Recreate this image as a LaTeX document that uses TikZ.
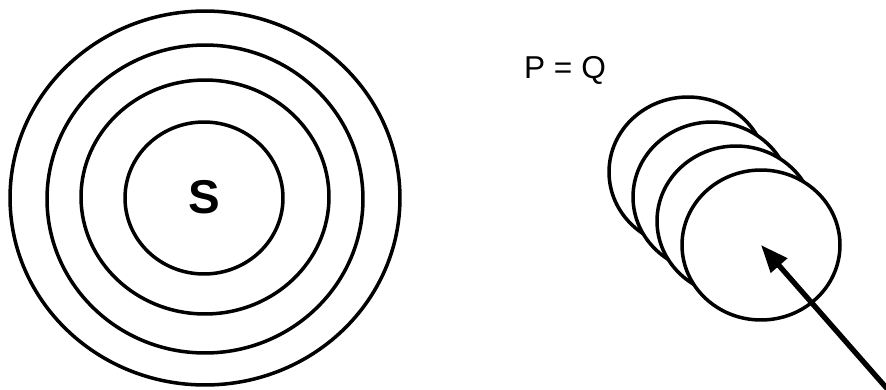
\documentclass[tikz,border=0pt]{standalone}
\usepackage{fontspec}
\setmainfont{Liberation Sans}
\usetikzlibrary{shapes.geometric,arrows.meta}
\begin{document}
\begin{tikzpicture}[x=0.02cm, y=-0.02cm,
	ring/.style={ellipse, draw, line width=2pt, inner sep=0pt},
	disc/.style={ellipse, draw, fill=white, line width=2pt, inner sep=0pt, minimum width=3.16cm, minimum height=3.0cm}]
	  \useasboundingbox (0,0) rectangle (886,389);
	  \node[ring, minimum width=7.8cm, minimum height=7.48cm] (s4) at (205,198) {};
	  \node[ring, minimum width=6.32cm, minimum height=6.16cm] (s3) at (205,199) {};
	  \node[ring, minimum width=4.96cm, minimum height=4.68cm] (s2) at (205,197) {};
	  \node[ring, minimum width=3.16cm, minimum height=3.04cm] (s1) at (204,198) {};
	  \node[font=\bfseries\fontsize{27}{32}\selectfont] (s) at (204,197) {S};
	  
	  \node[font=\fontsize{18}{22}\selectfont] (pq) at (565,70) {P = Q};
	  
	  \node[disc] (1) at (688,172) {};
	  \node[disc] (2) at (712,197) {};
	  \node[disc] (3) at (736,221) {};
	  \node[disc] (4) at (761,245) {};
	  
	  \coordinate (tail) at (890,392);
	  \draw[line width=3pt, -{Triangle[length=0.55cm, width=0.42cm]}] (tail) -- (4.center);
	\end{tikzpicture}
\end{document}
